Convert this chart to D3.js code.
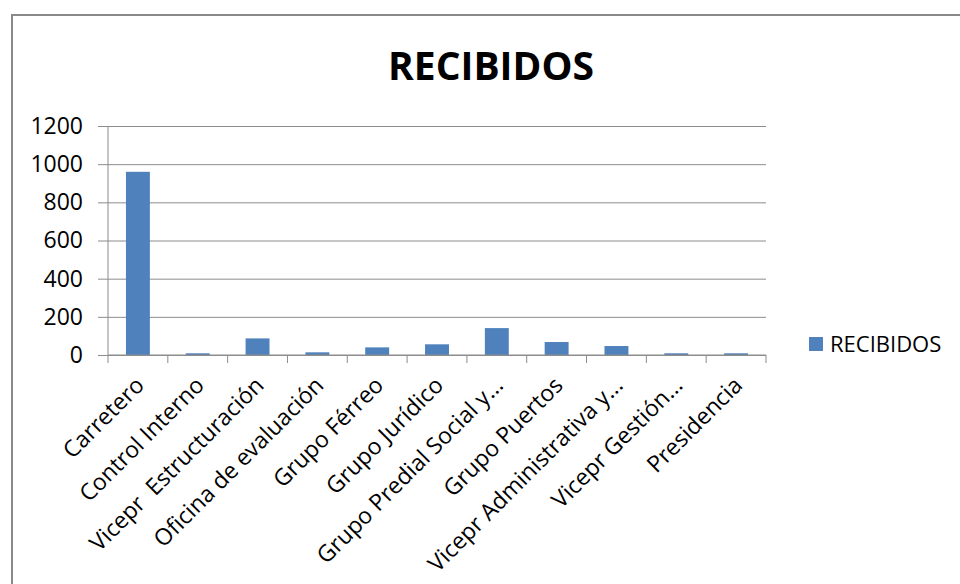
<!DOCTYPE html>
<html>
<head>
<meta charset="utf-8">
<script src="https://cdn.jsdelivr.net/npm/d3@7"></script>
<style>
  body { margin: 0; background: #fff; }
  svg { display: block; font-family: "Open Sans", sans-serif; }
</style>
</head>
<body>
<script>
// Categories and values
const categories = [
    "Carretero", "Control Interno", "Vicepr  Estructuración", "Oficina de evaluación",
    "Grupo Férreo", "Grupo Jurídico", "Grupo Predial Social y...", "Grupo Puertos",
    "Vicepr Administrativa y...", "Vicepr Gestión...", "Presidencia"
];
const recibidos = [960, 9, 87, 14, 40, 56, 141, 68, 47, 9, 9];
const yTicks = [0, 200, 400, 600, 800, 1000, 1200];
const seriesName = "RECIBIDOS";

const width = 960, height = 584;
const margin = { left: 108, right: 194, top: 126, bottom: 229 };

const svg = d3.select("body").append("svg")
    .attr("width", width)
    .attr("height", height);

// outer chart frame
svg.append("rect")
    .attr("x", 12).attr("y", 15)
    .attr("width", 960).attr("height", 600)
    .attr("fill", "none")
    .attr("stroke", "#898989")
    .attr("stroke-width", 2);

const x = d3.scaleBand()
    .domain(categories)
    .range([margin.left, width - margin.right])
    .paddingInner(0.6)
    .paddingOuter(0.3);

const y = d3.scaleLinear()
    .domain([0, 1200])
    .range([height - margin.bottom, margin.top]);

// gridlines + y labels
svg.append("g")
    .attr("transform", `translate(${margin.left},0)`)
    .call(d3.axisLeft(y).tickValues(yTicks).tickFormat(d3.format("d"))
        .tickSize(-(width - margin.right - margin.left)).tickPadding(25))
    .call(g => g.select(".domain").remove())
    .call(g => g.selectAll(".tick line").attr("stroke", "#8c8c8c").attr("x1", -10))
    .call(g => g.selectAll(".tick text")
        .attr("fill", "#000")
        .attr("font-size", 23)
        .attr("font-family", "Open Sans"));

// bars
svg.append("g")
    .selectAll("rect")
    .data(recibidos)
    .join("rect")
    .attr("x", (d, i) => x(categories[i]))
    .attr("y", d => y(d))
    .attr("width", x.bandwidth())
    .attr("height", d => y(0) - y(d))
    .attr("fill", "#4F81BD");

// category axis with boundary ticks
const step = x.step();
const x0 = margin.left, x1 = width - margin.right, yZero = y(0);
const axisG = svg.append("g");
axisG.append("line")
    .attr("x1", x0).attr("x2", x1)
    .attr("y1", yZero).attr("y2", yZero)
    .attr("stroke", "#8c8c8c");
axisG.append("line")
    .attr("x1", x0).attr("x2", x0)
    .attr("y1", margin.top).attr("y2", yZero)
    .attr("stroke", "#8c8c8c");
axisG.selectAll("line.tk")
    .data(d3.range(categories.length + 1))
    .join("line")
    .attr("class", "tk")
    .attr("x1", i => x0 + i * step).attr("x2", i => x0 + i * step)
    .attr("y1", yZero).attr("y2", yZero + 8)
    .attr("stroke", "#8c8c8c");

axisG.selectAll("text")
    .data(categories)
    .join("text")
    .attr("transform", d => `translate(${x(d) + x.bandwidth() / 2 + 2},${yZero + 26}) rotate(-45)`)
    .attr("text-anchor", "end")
    .attr("dy", "0.35em")
    .attr("font-size", 23)
    .attr("fill", "#000")
    .style("white-space", "pre")
    .text(d => d);

// title
svg.append("text")
    .attr("x", 491).attr("y", 80)
    .attr("text-anchor", "middle")
    .attr("font-size", 39)
    .attr("font-weight", "bold")
    .attr("fill", "#000")
    .text(seriesName);

// legend
const legend = svg.append("g").attr("transform", "translate(809,337)");
legend.append("rect")
    .attr("width", 14).attr("height", 14)
    .attr("fill", "#4F81BD");
legend.append("text")
    .attr("x", 21).attr("y", 7)
    .attr("dy", "0.35em")
    .attr("font-size", 22)
    .attr("fill", "#000")
    .text(seriesName);
</script>
</body>
</html>
